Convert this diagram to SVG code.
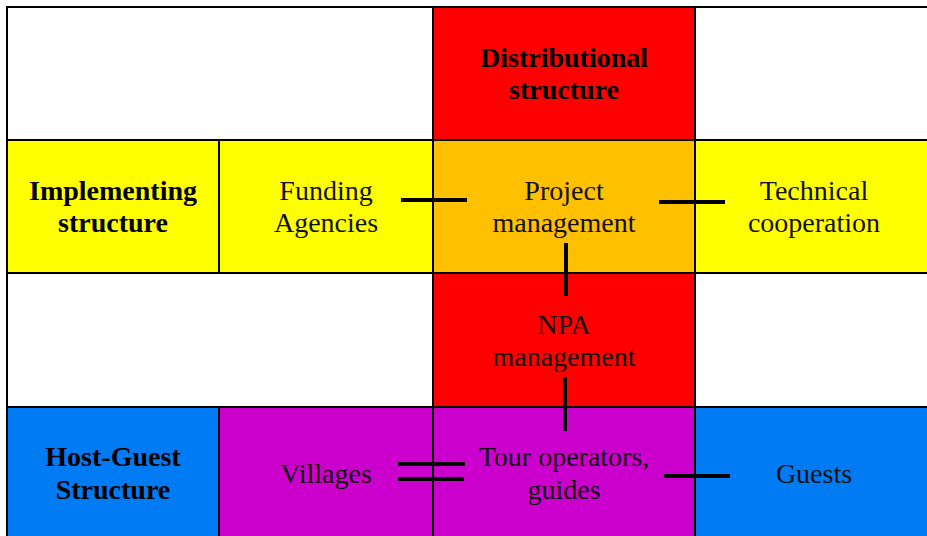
<svg xmlns="http://www.w3.org/2000/svg" width="927" height="536" viewBox="0 0 927 536">
<style>
.cell{stroke:#000;stroke-width:2}
.t{font-family:"Liberation Serif","Times New Roman",serif;font-size:28px;fill:#111;text-anchor:middle}
.b{font-weight:bold;fill:#000}
.c{stroke:#000;stroke-width:4;fill:none}
</style>
<rect width="927" height="536" fill="#fff"/>
<g id="row1">
<rect id="empty-tl" class="cell" x="7" y="7" width="426" height="133" fill="#fff"/>
<rect id="empty-tr" class="cell" x="695" y="7" width="240" height="133" fill="#fff"/>
</g>
<g id="distributional">
<rect class="cell" x="433" y="7" width="262" height="133" fill="#ff0000"/>
<text class="t b" x="564" y="67">Distributional</text>
<text class="t b" x="564" y="99">structure</text>
</g>
<g id="implementing">
<rect class="cell" x="7" y="140" width="212" height="133" fill="#ffff00"/>
<text class="t b" x="113" y="200">Implementing</text>
<text class="t b" x="113" y="232">structure</text>
</g>
<g id="funding">
<rect class="cell" x="219" y="140" width="214" height="133" fill="#ffff00"/>
<text class="t" x="326" y="200">Funding</text>
<text class="t" x="326" y="232">Agencies</text>
</g>
<g id="project">
<rect class="cell" x="433" y="140" width="262" height="133" fill="#ffc000"/>
<text class="t" x="564" y="200">Project</text>
<text class="t" x="564" y="232">management</text>
</g>
<g id="technical">
<rect class="cell" x="695" y="140" width="240" height="133" fill="#ffff00"/>
<text class="t" x="814" y="200">Technical</text>
<text class="t" x="814" y="232">cooperation</text>
</g>
<g id="row3">
<rect id="empty-ml" class="cell" x="7" y="273" width="426" height="134" fill="#fff"/>
<rect id="empty-mr" class="cell" x="695" y="273" width="240" height="134" fill="#fff"/>
</g>
<g id="npa">
<rect class="cell" x="433" y="273" width="262" height="134" fill="#ff0000"/>
<text class="t" x="564" y="334">NPA</text>
<text class="t" x="564" y="366">management</text>
</g>
<g id="hostguest">
<rect class="cell" x="7" y="407" width="212" height="140" fill="#007bf3"/>
<text class="t b" x="113" y="466">Host-Guest</text>
<text class="t b" x="113" y="499">Structure</text>
</g>
<g id="villages">
<rect class="cell" x="219" y="407" width="214" height="140" fill="#cc00cc"/>
<text class="t" x="326" y="483">Villages</text>
</g>
<g id="tour">
<rect class="cell" x="433" y="407" width="262" height="140" fill="#cc00cc"/>
<text class="t" x="564" y="466">Tour operators,</text>
<text class="t" x="564" y="499">guides</text>
</g>
<g id="guests">
<rect class="cell" x="695" y="407" width="240" height="140" fill="#007bf3"/>
<text class="t" x="814" y="483">Guests</text>
</g>
<g id="connectors">
<line class="c" x1="401" y1="200" x2="467" y2="200"/>
<line class="c" x1="659" y1="202" x2="725" y2="202"/>
<line class="c" x1="566" y1="243" x2="566" y2="296"/>
<line class="c" x1="565" y1="377" x2="565" y2="431"/>
<line class="c" x1="398" y1="464" x2="465" y2="464"/>
<line class="c" x1="398" y1="479" x2="464" y2="479"/>
<line class="c" x1="664" y1="476" x2="730" y2="476"/>
</g>
</svg>
